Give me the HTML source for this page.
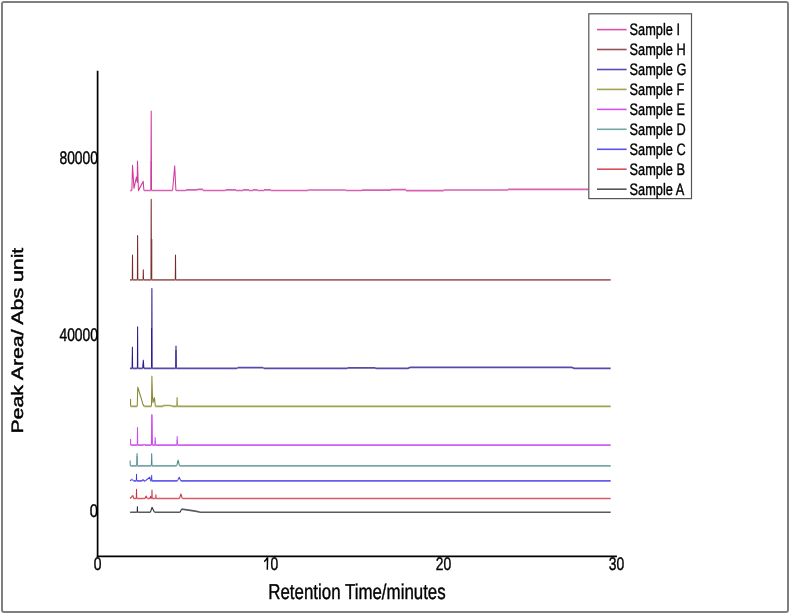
<!DOCTYPE html>
<html><head><meta charset="utf-8"><style>
html,body{margin:0;padding:0;background:#fff;}
svg{display:block;will-change:transform;}
text{font-family:"Liberation Sans",sans-serif;fill:#000;stroke:#000;stroke-width:0.4px;text-rendering:geometricPrecision;}
</style></head><body>
<svg width="790" height="614" viewBox="0 0 790 614">
<rect x="0" y="0" width="790" height="614" fill="#fff"/>
<rect x="2" y="2" width="786" height="610" rx="2" fill="none" stroke="#7f7f82" stroke-width="2"/>
<g transform="scale(0.78,1)" fill="none">
<path d="M169.10,190.50L169.87,165.40L171.79,188.30L174.87,177.10L175.90,182.00L176.28,161.20L177.44,190.50L183.59,181.40L184.49,190.50M193.46,190.50L193.85,111.20L194.23,190.50M221.28,190.50L223.97,166.00L225.51,190.50" stroke="#d03a9c" stroke-width="1.35" stroke-linejoin="round"/>
<path d="M193.85,160.90L193.85,189.70" stroke="#d03a9c" stroke-width="1.30"/>
<path d="M166.67,190.50L169.10,190.50M184.49,190.50L193.46,190.50M194.23,190.50L221.28,190.50M225.51,190.50L238.46,190.50M238.46,190.50L238.46,189.90M238.46,189.90L253.21,189.90M253.21,189.90L253.21,189.40M253.21,189.40L260.26,189.40M260.26,189.40L260.26,190.50M260.26,190.50L289.23,190.50M289.23,190.50L289.23,189.90M289.23,189.90L302.56,189.90M302.56,189.90L302.56,190.50M302.56,190.50L311.54,190.50M311.54,190.50L311.54,189.90M311.54,189.90L319.23,189.90M319.23,189.90L319.23,190.50M319.23,190.50L324.36,190.50M324.36,190.50L324.36,189.90M324.36,189.90L330.13,189.90M330.13,189.90L330.13,190.50M330.13,190.50L338.46,190.50M338.46,190.50L338.46,189.90M338.46,189.90L347.44,189.90M347.44,189.90L347.44,190.50M347.44,190.50L394.87,190.50M394.87,190.50L394.87,190.00M394.87,190.00L443.08,190.00M443.08,190.00L443.08,190.50M443.08,190.50L464.10,190.50M464.10,190.50L464.10,190.10M464.10,190.10L501.28,190.10M501.28,190.10L501.28,189.60M501.28,189.60L520.51,189.60M520.51,189.60L520.51,190.60M520.51,190.60L568.85,190.60M568.85,190.60L568.85,190.00M568.85,190.00L651.28,190.00M651.28,190.00L651.28,189.40M651.28,189.40L782.95,189.40" stroke="#d860b2" stroke-width="1.70"/>
<path d="M169.62,279.95L169.87,255.20L170.13,279.95M176.15,279.95L176.41,235.60L176.67,279.95M183.46,279.95L183.72,270.00L183.97,279.95M193.59,279.95L193.85,199.50L194.10,279.95M224.74,279.95L225.00,255.20L225.26,279.95" stroke="#7a2a2a" stroke-width="1.35" stroke-linejoin="round"/>
<path d="M194.62,239.00L194.62,279.15" stroke="#7a2a2a" stroke-width="1.20"/>
<path d="M225.00,260.00L225.00,279.15" stroke="#7a2a2a" stroke-width="1.00"/>
<path d="M169.87,265.00L169.87,279.15" stroke="#7a2a2a" stroke-width="0.80"/>
<path d="M166.67,279.95L169.62,279.95M170.13,279.95L176.15,279.95M176.67,279.95L183.46,279.95M183.97,279.95L193.59,279.95M194.10,279.95L224.74,279.95M225.26,279.95L782.95,279.95" stroke="#a46666" stroke-width="1.70"/>
<path d="M169.49,368.40L169.74,347.30L170.00,368.40M176.15,368.40L176.41,326.90L176.67,368.40M182.95,368.40L183.72,360.30L184.49,368.40M194.49,368.40L194.74,288.60L195.00,368.40M225.38,368.40L225.64,346.10L225.90,368.40" stroke="#2b1b8f" stroke-width="1.35" stroke-linejoin="round"/>
<path d="M194.36,328.10L194.36,367.60" stroke="#2b1b8f" stroke-width="1.20"/>
<path d="M225.64,350.00L225.64,367.60" stroke="#2b1b8f" stroke-width="1.00"/>
<path d="M169.74,357.00L169.74,367.60" stroke="#2b1b8f" stroke-width="0.90"/>
<path d="M166.67,368.40L169.49,368.40M170.00,368.40L176.15,368.40M176.67,368.40L182.95,368.40M184.49,368.40L194.49,368.40M195.00,368.40L225.38,368.40M225.90,368.40L303.85,368.40M303.85,368.40L305.13,367.60M305.13,367.60L337.18,367.60M337.18,367.60L338.46,368.40M338.46,368.40L444.87,368.40M444.87,368.40L446.15,367.80M446.15,367.80L480.77,367.80M480.77,367.80L482.05,368.40M482.05,368.40L523.08,368.40M523.08,368.40L525.64,367.40M525.64,367.40L733.33,367.40M733.33,367.40L735.90,368.40M735.90,368.40L782.95,368.40" stroke="#554ca9" stroke-width="1.70"/>
<path d="M167.44,399.00L167.44,406.30M175.90,406.30L176.67,387.30L180.13,396.00L183.33,404.50L184.87,406.30M194.23,406.30L194.74,376.30L195.38,395.00L196.15,402.50L197.95,397.80L199.23,406.30M226.79,406.30L227.05,397.70L227.31,406.30" stroke="#86882f" stroke-width="1.35" stroke-linejoin="round"/>
<path d="M167.44,406.30L175.90,406.30M184.87,406.30L194.23,406.30M199.23,406.30L208.72,406.30M208.72,406.30L209.62,405.50M209.62,405.50L218.59,405.50M218.59,405.50L221.28,406.30M221.28,406.30L226.79,406.30M227.31,406.30L782.95,406.30" stroke="#9fa253" stroke-width="1.70"/>
<path d="M167.44,439.00L167.44,445.10M176.03,445.10L176.28,427.70L176.54,445.10M194.10,445.10L194.74,414.80L195.38,445.10M198.72,445.10L198.97,437.70L199.23,445.10M226.92,445.10L227.18,436.70L227.44,445.10" stroke="#cc4aee" stroke-width="1.35" stroke-linejoin="round"/>
<path d="M194.74,414.60L194.74,444.30" stroke="#cc4aee" stroke-width="1.20"/>
<path d="M198.97,441.00L198.97,444.30" stroke="#cc4aee" stroke-width="0.80"/>
<path d="M227.18,440.00L227.18,444.30" stroke="#cc4aee" stroke-width="0.80"/>
<path d="M167.44,445.10L176.03,445.10M176.54,445.10L183.33,445.10M183.33,445.10L184.62,444.40M184.62,444.40L185.90,445.10M185.90,445.10L194.10,445.10M195.38,445.10L198.72,445.10M199.23,445.10L226.92,445.10M227.44,445.10L782.95,445.10" stroke="#d55ef0" stroke-width="1.70"/>
<path d="M166.79,460.50L167.05,465.80M175.45,465.80L175.71,453.70L175.96,465.80M194.10,465.80L194.49,453.80L194.87,465.80M226.54,465.80L228.33,460.20L230.13,465.80" stroke="#4f8c8c" stroke-width="1.35" stroke-linejoin="round"/>
<path d="M194.23,459.00L194.23,465.00" stroke="#4f8c8c" stroke-width="1.10"/>
<path d="M175.71,456.00L175.71,465.00" stroke="#4f8c8c" stroke-width="0.90"/>
<path d="M167.05,465.80L175.45,465.80M175.96,465.80L194.10,465.80M194.87,465.80L226.54,465.80M230.13,465.80L782.95,465.80" stroke="#78a8a8" stroke-width="1.70"/>
<path d="M166.79,480.80L168.59,479.60M169.87,479.60L171.15,480.80M174.74,480.80L175.00,474.30L175.26,480.80M186.41,480.80L192.18,477.20L192.95,480.80M194.23,480.80L194.49,475.30L194.74,480.80M227.56,480.80L229.74,477.20L231.79,480.80" stroke="#3f35ea" stroke-width="1.20" stroke-linejoin="round"/>
<path d="M168.59,479.60L169.87,479.60M171.15,480.80L174.74,480.80M175.26,480.80L182.05,480.80M182.05,480.80L183.33,479.70M183.33,479.70L184.62,480.80M184.62,480.80L186.41,480.80M192.95,480.80L194.23,480.80M194.74,480.80L227.56,480.80M231.79,480.80L782.95,480.80" stroke="#655ded" stroke-width="1.80"/>
<path d="M166.79,498.50L169.23,496.50M170.38,495.50L171.28,498.50M174.74,498.50L175.00,489.40L175.26,498.50M185.90,498.50L187.31,496.20L188.72,498.50M192.31,498.50L192.95,496.50L193.97,498.50M194.62,498.50L194.87,490.10L195.13,498.50M199.62,498.50L199.87,495.00L200.13,498.50M230.13,498.50L231.92,494.10L233.72,498.50" stroke="#cc3340" stroke-width="1.35" stroke-linejoin="round"/>
<path d="M169.23,496.50L170.38,495.50M171.28,498.50L174.74,498.50M175.26,498.50L185.90,498.50M188.72,498.50L192.31,498.50M193.97,498.50L194.62,498.50M195.13,498.50L199.62,498.50M200.13,498.50L230.13,498.50M233.72,498.50L782.95,498.50" stroke="#d65b64" stroke-width="1.70"/>
<path d="M175.90,512.25L176.15,506.80L176.41,512.25M192.82,512.25L194.87,507.40L198.08,512.25M230.90,512.25L232.82,509.20" stroke="#2f2c35" stroke-width="1.35" stroke-linejoin="round"/>
<path d="M166.79,512.25L175.90,512.25M176.41,512.25L192.82,512.25M198.08,512.25L230.90,512.25M232.82,509.20L237.44,509.70M237.44,509.70L243.97,510.40M243.97,510.40L250.38,511.20M250.38,511.20L256.92,512.25M256.92,512.25L782.95,512.25" stroke="#5c5961" stroke-width="1.70"/>
</g>
<line x1="97.6" y1="70.8" x2="97.6" y2="557.3" stroke="#000" stroke-width="1.7"/>
<line x1="96.8" y1="556.4" x2="616.9" y2="556.4" stroke="#000" stroke-width="1.9"/>
<text transform="translate(98.0,164.3) scale(0.758,1)" font-size="18.3" text-anchor="end">80000</text>
<text transform="translate(98.0,340.8) scale(0.758,1)" font-size="18.3" text-anchor="end">40000</text>
<text transform="translate(97.9,517.1) scale(0.8,1)" font-size="18.3" text-anchor="end">0</text>
<text transform="translate(97.6,570.4) scale(0.76,1)" font-size="18.3" text-anchor="middle">0</text>
<path d="M264.2,561.7 Q266.2,560.4 267.6,557.4 L267.3,569.7" stroke="#000" stroke-width="1.45" fill="none"/>
<text transform="translate(270.45,570.4) scale(0.76,1)" font-size="18.3">0</text>
<text transform="translate(443.6,570.4) scale(0.76,1)" font-size="18.3" text-anchor="middle">20</text>
<text transform="translate(616.6,570.4) scale(0.76,1)" font-size="18.3" text-anchor="middle">30</text>
<text transform="translate(268.2,599.25) scale(0.786,1)" font-size="21.5">Retention Time/minutes</text>
<text transform="translate(23.3,433.6) rotate(-90) scale(1,0.775)" font-size="21.3" style="stroke-width:0.55px">Peak Area/ Abs unit</text>
<rect x="588.8" y="13.8" width="102.7" height="184.8" fill="#fff" stroke="#555" stroke-width="1.2"/>
<line x1="597.0" y1="29.6" x2="626.6" y2="29.6" stroke="#d850ae" stroke-width="1.6"/>
<text transform="translate(629.6,35.1) scale(0.769,1)" font-size="16.6">Sample I</text>
<line x1="597.0" y1="49.5" x2="626.6" y2="49.5" stroke="#93505a" stroke-width="1.6"/>
<text transform="translate(629.6,55.0) scale(0.769,1)" font-size="16.6">Sample H</text>
<line x1="597.0" y1="69.5" x2="626.6" y2="69.5" stroke="#554cb6" stroke-width="1.6"/>
<text transform="translate(629.6,75.0) scale(0.769,1)" font-size="16.6">Sample G</text>
<line x1="597.0" y1="89.4" x2="626.6" y2="89.4" stroke="#a0a250" stroke-width="1.6"/>
<text transform="translate(629.6,94.9) scale(0.769,1)" font-size="16.6">Sample F</text>
<line x1="597.0" y1="109.4" x2="626.6" y2="109.4" stroke="#d452f0" stroke-width="1.6"/>
<text transform="translate(629.6,114.9) scale(0.769,1)" font-size="16.6">Sample E</text>
<line x1="597.0" y1="129.3" x2="626.6" y2="129.3" stroke="#72a6a6" stroke-width="1.6"/>
<text transform="translate(629.6,134.8) scale(0.769,1)" font-size="16.6">Sample D</text>
<line x1="597.0" y1="149.3" x2="626.6" y2="149.3" stroke="#5a52ee" stroke-width="1.6"/>
<text transform="translate(629.6,154.8) scale(0.769,1)" font-size="16.6">Sample C</text>
<line x1="597.0" y1="169.2" x2="626.6" y2="169.2" stroke="#d65058" stroke-width="1.6"/>
<text transform="translate(629.6,174.8) scale(0.769,1)" font-size="16.6">Sample B</text>
<line x1="597.0" y1="189.2" x2="626.6" y2="189.2" stroke="#56535b" stroke-width="1.6"/>
<text transform="translate(629.6,194.7) scale(0.769,1)" font-size="16.6">Sample A</text>
</svg>
</body></html>
